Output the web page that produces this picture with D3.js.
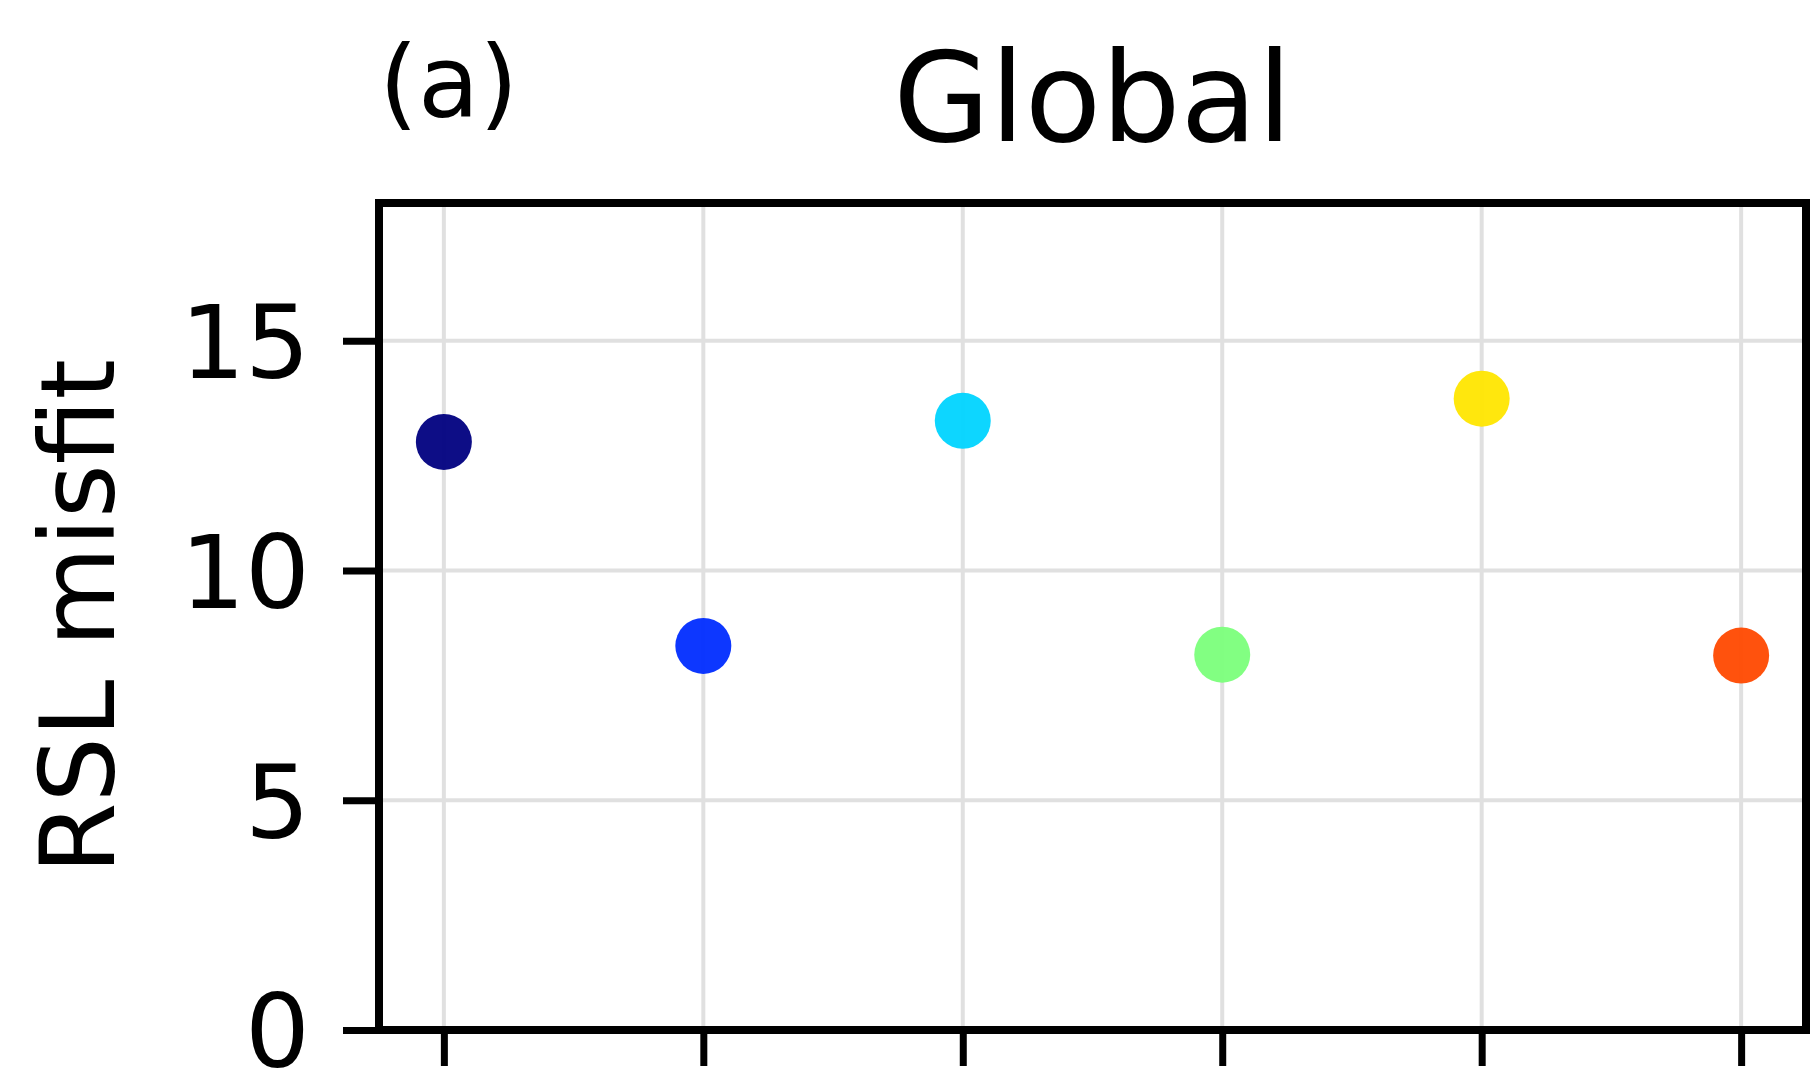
<!DOCTYPE html>
<html>
<head>
<meta charset="utf-8">
<script src="https://cdn.jsdelivr.net/npm/d3@7"></script>
<style>
  html, body { margin: 0; padding: 0; background: #ffffff; }
  svg { display: block; font-family: "DejaVu Sans", sans-serif; }
</style>
</head>
<body>
<script>
// ---- data ----
const categories = [0, 1, 2, 3, 4, 5];
const misfit = [12.80, 8.36, 13.26, 8.17, 13.74, 8.15];
const pointColors = ["#00007f", "#002cff", "#00d4ff", "#7bff7b", "#ffe600", "#ff4900"];
const yTicks = [0, 5, 10, 15];
const titleText = "Global";
const panelLabel = "(a)";
const yLabel = "RSL misfit";

// ---- layout ----
const W = 1813, H = 1088;
const m = { left: 379, right: 1806, top: 203, bottom: 1030 };

const svg = d3.select("body").append("svg").attr("width", W).attr("height", H);

const x = d3.scaleLinear().domain([-0.25, 5.25]).range([m.left, m.right]);
const y = d3.scaleLinear().domain([0, 18]).range([m.bottom, m.top]);

// grid
const grid = svg.append("g");
grid.selectAll("line.gx").data(categories).join("line")
  .attr("x1", d => x(d)).attr("x2", d => x(d))
  .attr("y1", m.top).attr("y2", m.bottom)
  .attr("stroke", "#e0e0e0").attr("stroke-width", 4);
grid.selectAll("line.gy").data(yTicks).join("line")
  .attr("x1", m.left).attr("x2", m.right)
  .attr("y1", d => y(d)).attr("y2", d => y(d))
  .attr("stroke", "#e0e0e0").attr("stroke-width", 4);

// points
svg.append("g").selectAll("circle").data(categories).join("circle")
  .attr("cx", d => x(d)).attr("cy", (d, i) => y(misfit[i]))
  .attr("r", 28)
  .attr("fill", (d, i) => pointColors[i])
  .attr("fill-opacity", 0.95);

// axes
const yAxis = d3.axisLeft(y).tickValues(yTicks).tickSize(36).tickPadding(33).tickFormat(d3.format("d"));
const gy = svg.append("g").attr("transform", `translate(${m.left},0)`).call(yAxis);
gy.select(".domain").remove();
gy.selectAll(".tick line").attr("stroke", "#000").attr("stroke-width", 7);
gy.selectAll(".tick text").attr("font-size", 102).attr("fill", "#000")
  .attr("font-family", "DejaVu Sans").attr("dy", "0.36em");

const xAxis = d3.axisBottom(x).tickValues(categories).tickSize(36).tickFormat("");
const gx = svg.append("g").attr("transform", `translate(0,${m.bottom})`).call(xAxis);
gx.select(".domain").remove();
gx.selectAll(".tick line").attr("stroke", "#000").attr("stroke-width", 7);

// frame
svg.append("rect")
  .attr("x", m.left).attr("y", m.top)
  .attr("width", m.right - m.left).attr("height", m.bottom - m.top)
  .attr("fill", "none").attr("stroke", "#000").attr("stroke-width", 8);

// title and labels
svg.append("text").attr("x", (m.left + m.right) / 2).attr("y", 141)
  .attr("text-anchor", "middle").attr("font-size", 125).attr("fill", "#000")
  .text(titleText);
svg.append("text").attr("x", m.left).attr("y", 117)
  .attr("text-anchor", "start").attr("font-size", 100).attr("fill", "#000")
  .text(panelLabel);
svg.append("text")
  .attr("transform", `translate(114,${(m.top + m.bottom) / 2}) rotate(-90)`)
  .attr("text-anchor", "middle").attr("font-size", 103).attr("fill", "#000")
  .text(yLabel);
</script>
</body>
</html>
